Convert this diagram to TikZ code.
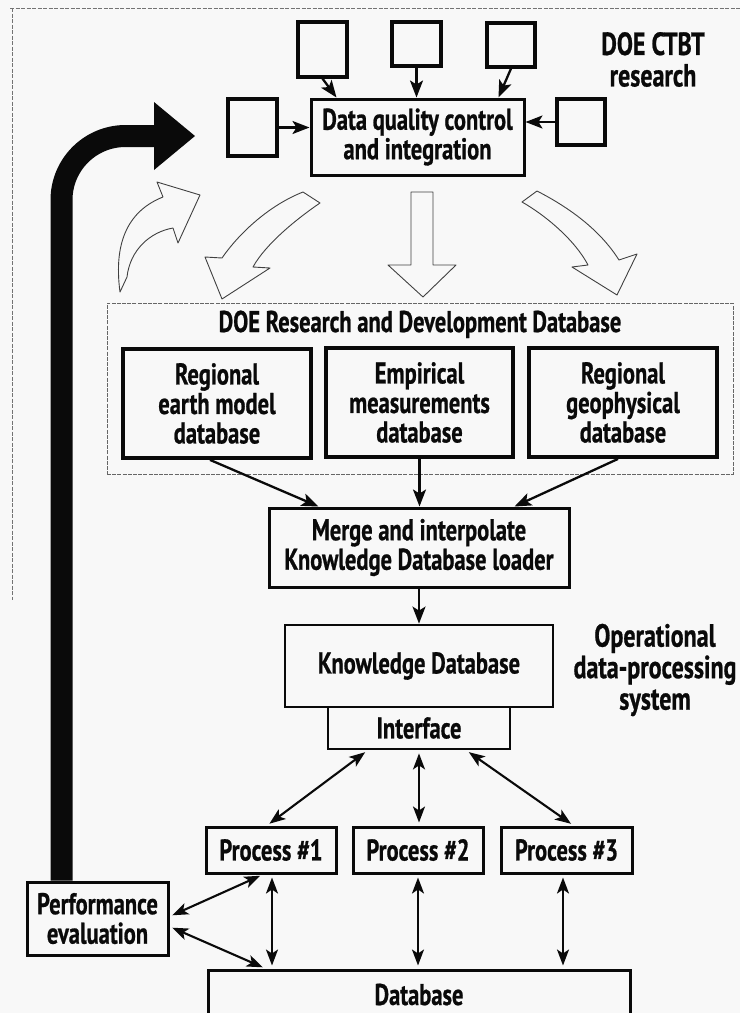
\documentclass[tikz,border=0pt]{standalone}
\usepackage{fontspec}
\setmainfont{PT Sans}[FakeStretch=0.75, FakeBold=0.7]
\usetikzlibrary{arrows.meta,calc}
\definecolor{bg}{RGB}{248,248,248}
\definecolor{ink}{RGB}{10,10,10}
\begin{document}
\begin{tikzpicture}[x=1pt,y=-1pt,
  box/.style={draw=ink, line width=3pt, fill=bg, align=center, inner sep=0pt,
    font=\bfseries\fontsize{30}{29.5}\selectfont, text=ink},
  sq/.style={draw=ink, line width=3.2pt, fill=bg, inner sep=0pt},
  arr/.style={draw=ink, line width=2.3pt, -{Stealth[length=17pt,width=13pt,inset=4pt]}},
  dbl/.style={draw=ink, line width=2.1pt,
    {Stealth[length=16pt,width=12pt,inset=4pt]}-{Stealth[length=16pt,width=12pt,inset=4pt]},
    shorten <=3pt, shorten >=3pt},
  hollow/.style={draw=black!75, line width=0.9pt, fill=bg, line join=round},
  side/.style={align=center, inner sep=0pt, font=\bfseries\fontsize{32}{31.5}\selectfont, text=ink},
  frame/.style={draw=black!55, line width=0.7pt, dash pattern=on 4pt off 1.5pt}]
\useasboundingbox (0,0) rectangle (740,1013);
\fill[bg] (0,0) rectangle (740,1013);
\clip (0,0) rectangle (740,1013);

% outer dashed frame
\coordinate (f1) at (10,8);
\coordinate (f2) at (740,8);
\coordinate (f3) at (12,8);
\coordinate (f4) at (12,600);
\draw[frame] (f1) -- (f2);
\draw[frame] (f3) -- (f4);

% hollow arrows
\draw[hollow] (411,192) -- (433,192) -- (433,265) -- (456,265) -- (423,297)
  -- (388,265) -- (411,265) -- cycle;
\draw[hollow] (537,191) .. controls (570,208) and (600,230) .. (619,260)
  -- (637,254) -- (617,295) -- (572,267) -- (588,265)
  .. controls (575,240) and (545,215) .. (522,202) -- cycle;
\draw[hollow] (303,192) .. controls (270,205) and (240,232) .. (222,258)
  -- (205,257) -- (222,299) -- (270,268) -- (253,267)
  .. controls (265,245) and (295,220) .. (320,203) -- cycle;
\draw[hollow] (120,292) .. controls (113,240) and (130,210) .. (163,197)
  -- (157,182) -- (200,195) -- (178,243) -- (173,228)
  .. controls (150,232) and (130,250) .. (127,277) -- cycle;

% top squares and data quality box
\node[sq, minimum width=49pt, minimum height=55pt] (s1) at (322.5,49.5) {};
\node[sq, minimum width=49pt, minimum height=44pt] (s2) at (416.5,44) {};
\node[sq, minimum width=48pt, minimum height=44pt] (s3) at (511,45) {};
\node[sq, minimum width=49pt, minimum height=57pt] (sl) at (252.5,127.5) {};
\node[sq, minimum width=48pt, minimum height=46pt] (sr) at (581,122) {};
\node[box, minimum width=213pt, minimum height=76pt] (dq) at (417.5,137)
  {Data quality control\\and integration};
\node[side] (ctbt) at (653,59.5) {DOE CTBT\\research};

\draw[arr] (s1.south) -- ($(dq.north west)+(27,0)$);
\draw[arr] (s2.south) -- (s2.south |- dq.north);
\draw[arr] (s3.south) -- ($(dq.north east)+(-27,0)$);
\draw[arr] (sl.east) -- (sl.east -| dq.west);
\draw[arr] (sr.west) -- (sr.west -| dq.east);

% R&D database
\node[draw=black!60, line width=0.8pt, dash pattern=on 4pt off 1.2pt,
  minimum width=626pt, minimum height=171pt, inner sep=0pt] (rd) at (420,388.5) {};
\node[anchor=base, inner sep=0pt, font=\bfseries\fontsize{30}{29.5}\selectfont, text=ink]
  (rdt) at (420,332) {DOE Research and Development Database};
\node[box, line width=3.8pt, minimum width=188pt, minimum height=109pt] (a) at (217,403.5)
  {Regional\\earth model\\database};
\node[box, line width=3.8pt, minimum width=187pt, minimum height=109pt] (b) at (419.5,402.5)
  {Empirical\\measurements\\database};
\node[box, line width=3.8pt, minimum width=188pt, minimum height=109pt] (c) at (623,402.5)
  {Regional\\geophysical\\database};

\node[box, minimum width=300pt, minimum height=79pt] (merge) at (419,547.5)
  {Merge and interpolate\\Knowledge Database loader};
\draw[arr] ($(a.south)+(-7,0)$) -- ($(merge.north west)+(51,0)$);
\draw[arr] (b.south) -- (b.south |- merge.north);
\draw[arr] ($(c.south)+(-5,0)$) -- ($(merge.north east)+(-56,0)$);

% operational system
\node[box, line width=2.8pt, minimum width=182pt, minimum height=42pt] (iface) at (419,728) {Interface};
\node[box, line width=2.8pt, minimum width=268pt, minimum height=82pt] (kd) at (419,666) {Knowledge Database};
\draw[arr] (merge.south) -- (kd.north);
\node[side] (ops) at (655,670) {Operational\\data-processing\\system};

\node[box, minimum width=130pt, minimum height=46pt] (p1) at (271,850) {Process \#1};
\node[box, minimum width=130pt, minimum height=46pt] (p2) at (418,850) {Process \#2};
\node[box, minimum width=131pt, minimum height=46pt] (p3) at (566.5,850) {Process \#3};
\node[box, minimum width=141pt, minimum height=73pt] (perf) at (97.5,918.5) {Performance\\evaluation};
\node[box, minimum width=422pt, minimum height=70pt] (db) at (419,1005) {};
\node[anchor=base, inner sep=0pt, font=\bfseries\fontsize{30}{29.5}\selectfont, text=ink]
  (dbt) at (419,1005) {Database};

\draw[dbl] ($(iface.south west)+(41,0)$) -- ($(p1.north)+(-4,0)$);
\draw[dbl] (iface.south) -- (iface.south |- p2.north);
\draw[dbl] ($(iface.south east)+(-45,0)$) -- ($(p3.north)+(7,0)$);
\draw[dbl] ($(perf.east)+(0,-2)$) -- ($(p1.south)+(-8,0)$);
\draw[dbl] ($(perf.east)+(0,8)$) -- ($(db.north west)+(59,0)$);
\coordinate (p1b) at ($(p1.south)+(1,0)$);
\draw[dbl] (p1b) -- (p1b |- db.north);
\draw[dbl] (p2.south) -- (p2.south |- db.north);
\coordinate (p3b) at ($(p3.south)+(-3.5,0)$);
\draw[dbl] (p3b) -- (p3b |- db.north);

% feedback arrow
\coordinate (fbs) at ($(perf.north west)+(36,0)$);
\coordinate (fbe) at (156,136);
\draw[ink, line width=22pt, rounded corners=64pt] (fbs) -- (fbs |- fbe) -- (fbe);
\fill[ink] (154,102) -- (195,136) -- (154,170) -- cycle;
\end{tikzpicture}
\end{document}
